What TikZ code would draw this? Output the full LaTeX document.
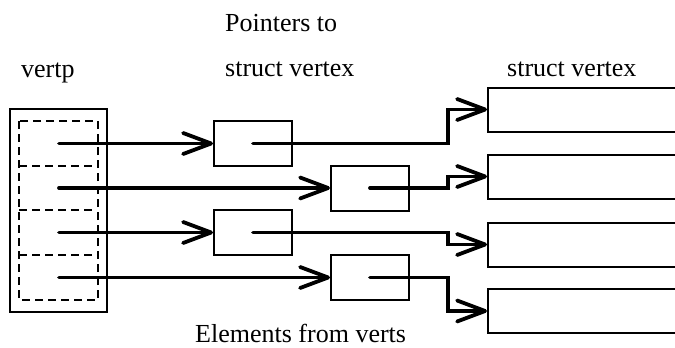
\documentclass[tikz,border=0pt]{standalone}
\usepackage{fontspec}
\setmainfont{Liberation Serif}
\usetikzlibrary{arrows.meta,calc}
\begin{document}
\begin{tikzpicture}[x=1pt,y=-1pt,
  frame/.style={draw,line width=2pt},
  slotline/.style={draw,line width=2pt,dash pattern=on 8pt off 5pt},
  ptrbox/.style={frame,inner sep=0pt,minimum width=78pt,minimum height=45pt},
  vtxbox/.style={frame,inner sep=0pt,anchor=west,minimum width=215pt,minimum height=44pt},
  ptr/.style={line width=3.8pt,line cap=round,line join=miter,
    -{Straight Barb[length=28pt,width=21pt,round]}},
  lbl/.style={font=\fontsize{26}{30}\selectfont,inner sep=0pt,anchor=base west}]
\useasboundingbox (0,0) rectangle (675,348);
\clip (0,0) rectangle (675,348);

% labels
\node[lbl] (lvertp) at (21,77) {vertp};
\node[lbl] (lptr1) at (225,31.5) {Pointers to};
\node[lbl] (lptr2) at (225,76.5) {struct vertex};
\node[lbl] (lvtx) at (507,76.5) {struct vertex};
\node[lbl] (lelem) at (195,342.5) {Elements from verts};

% the vertp array with its four slots
\draw[frame] (10,109) rectangle (107,312);
\draw[slotline] (19,121) rectangle (98,300);
\foreach \y in {166,210,255} \draw[slotline] (19,\y) -- (92,\y);
\coordinate (s1) at (59,143.5);
\coordinate (s2) at (59,188);
\coordinate (s3) at (59,232.5);
\coordinate (s4) at (59,277.5);

% elements of verts (pointers)
\node[ptrbox] (p1) at (253,143.5) {};
\node[ptrbox] (p2) at (370,188) {};
\node[ptrbox] (p3) at (253,232.5) {};
\node[ptrbox] (p4) at (370,277.5) {};

% struct vertex records
\node[vtxbox] (v1) at (487,109.5) {};
\node[vtxbox] (v2) at (487,176.5) {};
\node[vtxbox] (v3) at (487,244.5) {};
\node[vtxbox] (v4) at (487,311) {};

% vertp slots point to elements of verts
\draw[ptr] (s1) -- (s1 -| p1.west);
\draw[ptr] (s2) -- (s2 -| p2.west);
\draw[ptr] (s3) -- (s3 -| p3.west);
\draw[ptr] (s4) -- (s4 -| p4.west);

% elements point to the vertex records
\draw[ptr] (p1.center) -| ($(v1.west)+(-39,0)$) -- (v1.west);
\draw[ptr] (p2.center) -| ($(v2.west)+(-39,0)$) -- (v2.west);
\draw[ptr] (p3.center) -| ($(v3.west)+(-39,0)$) -- (v3.west);
\draw[ptr] (p4.center) -| ($(v4.west)+(-39,0)$) -- (v4.west);
\end{tikzpicture}
\end{document}
